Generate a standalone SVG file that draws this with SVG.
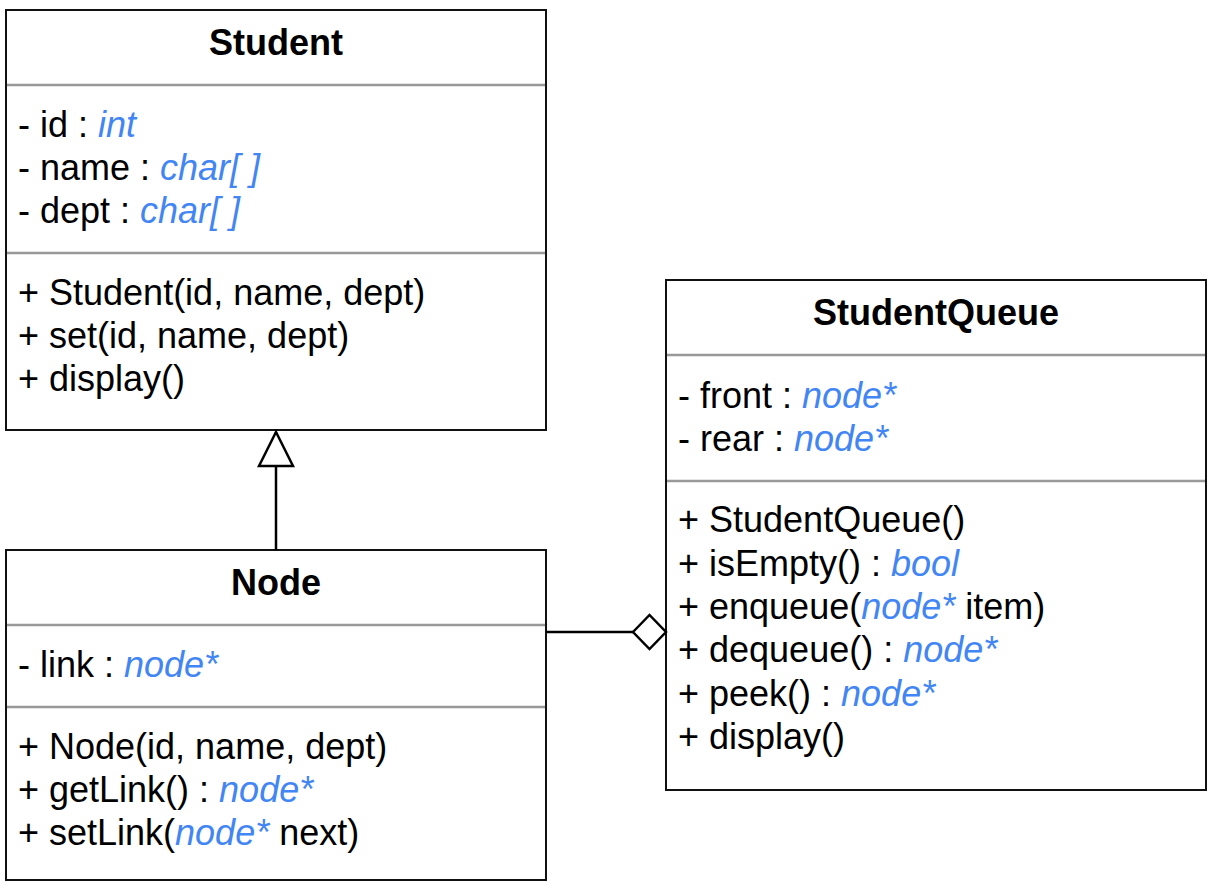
<svg xmlns="http://www.w3.org/2000/svg" width="1218" height="888" viewBox="0 0 1218 888">
<style>
text { font-family: "Liberation Sans", Arial, Helvetica, sans-serif; font-size: 36px; fill: #000; }
.title { font-weight: bold; text-anchor: middle; }
.t { fill: #4285f4; font-style: italic; }
.box { fill: #fff; stroke: #111; stroke-width: 2; }
.div { stroke: #999; stroke-width: 2.5; fill: none; }
.conn { stroke: #000; stroke-width: 2.5; fill: none; }
</style>
<defs>
<marker id="tri" markerUnits="userSpaceOnUse" markerWidth="40" markerHeight="40" refX="34" refY="17" orient="auto" overflow="visible">
<path d="M0,0 L34,17 L0,34 Z" fill="#fff" stroke="#000" stroke-width="2.5"/>
</marker>
<marker id="dia" markerUnits="userSpaceOnUse" markerWidth="40" markerHeight="40" refX="33" refY="17" orient="auto" overflow="visible">
<path d="M0,17 L16.5,0 L33,17 L16.5,34 Z" fill="#fff" stroke="#000" stroke-width="2.5"/>
</marker>
</defs>
<g id="Student">
<rect class="box" x="6" y="10" width="540" height="420"/>
<line class="div" x1="7" y1="85" x2="545" y2="85"/>
<line class="div" x1="7" y1="253" x2="545" y2="253"/>
<text class="title" x="276" y="55">Student</text>
<text x="18" y="137">- id : <tspan class="t">int</tspan></text>
<text x="18" y="180">- name : <tspan class="t">char[ ]</tspan></text>
<text x="18" y="223">- dept : <tspan class="t">char[ ]</tspan></text>
<text x="18" y="305">+ Student(id, name, dept)</text>
<text x="18" y="348">+ set(id, name, dept)</text>
<text x="18" y="391">+ display()</text>
</g>
<g id="Node">
<rect class="box" x="6" y="550" width="540" height="330"/>
<line class="div" x1="7" y1="625" x2="545" y2="625"/>
<line class="div" x1="7" y1="707" x2="545" y2="707"/>
<text class="title" x="276" y="595">Node</text>
<text x="18" y="677">- link : <tspan class="t">node*</tspan></text>
<text x="18" y="759">+ Node(id, name, dept)</text>
<text x="18" y="802">+ getLink() : <tspan class="t">node*</tspan></text>
<text x="18" y="845">+ setLink(<tspan class="t">node*</tspan> next)</text>
</g>
<g id="StudentQueue">
<rect class="box" x="666" y="280" width="540" height="510"/>
<line class="div" x1="667" y1="355" x2="1205" y2="355"/>
<line class="div" x1="667" y1="481" x2="1205" y2="481"/>
<text class="title" x="936" y="325">StudentQueue</text>
<text x="678" y="408">- front : <tspan class="t">node*</tspan></text>
<text x="678" y="451">- rear : <tspan class="t">node*</tspan></text>
<text x="678" y="532">+ StudentQueue()</text>
<text x="678" y="575.5">+ isEmpty() : <tspan class="t">bool</tspan></text>
<text x="678" y="619">+ enqueue(<tspan class="t">node*</tspan> item)</text>
<text x="678" y="662">+ dequeue() : <tspan class="t">node*</tspan></text>
<text x="678" y="705.5">+ peek() : <tspan class="t">node*</tspan></text>
<text x="678" y="749">+ display()</text>
</g>
<g id="connectors">
<path class="conn" d="M276,550 L276,432" marker-end="url(#tri)"/>
<path class="conn" d="M546,632 L666,632" marker-end="url(#dia)"/>
</g>
</svg>
